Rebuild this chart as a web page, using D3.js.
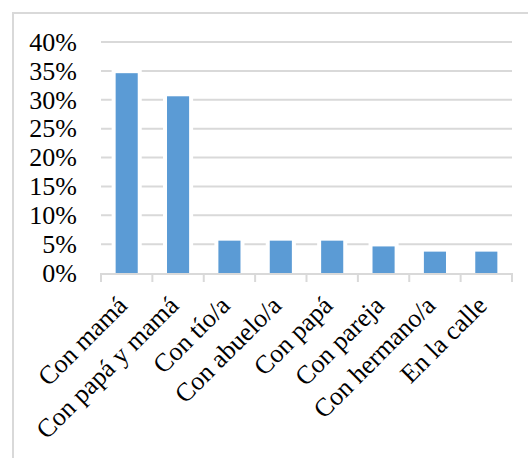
<!DOCTYPE html>
<html>
<head>
<meta charset="utf-8">
<script src="https://cdn.jsdelivr.net/npm/d3@7"></script>
<style>
  html, body { margin: 0; padding: 0; background: #fff; }
  svg { display: block; }
</style>
</head>
<body>
<svg id="chart" width="528" height="458"></svg>
<script>
// Where the respondents live (share of total)
const categories = ["Con mamá", "Con papá y mamá", "Con tío/a", "Con abuelo/a",
                    "Con papá", "Con pareja", "Con hermano/a", "En la calle"];
const values = [0.346, 0.306, 0.056, 0.056, 0.056, 0.046, 0.037, 0.037];
const yTicks = [0, 0.05, 0.10, 0.15, 0.20, 0.25, 0.30, 0.35, 0.40];
const yTickLabels = ["0%", "5%", "10%", "15%", "20%", "25%", "30%", "35%", "40%"];

const svg = d3.select("#chart");
const font = "'Liberation Serif', 'Times New Roman', serif";
const gridColor = "#d9d9d9";
const barColor = "#5b9bd5";

const plot = { left: 101, right: 512, top: 42, bottom: 273 };

// outer chart frame (left and top edges visible)
svg.append("path")
  .attr("d", `M13,458 L13,13 L528,13`)
  .attr("fill", "none")
  .attr("stroke", gridColor)
  .attr("stroke-width", 2);

const x = d3.scaleBand()
  .domain(categories)
  .range([plot.left, plot.right])
  .paddingInner(0.57)
  .paddingOuter(0.285);

const y = d3.scaleLinear()
  .domain([0, 0.40])
  .range([plot.bottom, plot.top]);

// horizontal gridlines
svg.append("g")
  .selectAll("line")
  .data(yTicks.slice(1))
  .join("line")
  .attr("x1", plot.left)
  .attr("x2", plot.right)
  .attr("y1", d => y(d))
  .attr("y2", d => y(d))
  .attr("stroke", gridColor)
  .attr("stroke-width", 2);

// y labels
svg.append("g")
  .selectAll("text")
  .data(yTicks)
  .join("text")
  .attr("x", 77)
  .attr("y", d => y(d))
  .attr("dy", "0.34em")
  .attr("text-anchor", "end")
  .attr("font-family", font)
  .attr("font-size", 26)
  .attr("fill", "#000")
  .text((d, i) => yTickLabels[i]);

// bars with a white halo that breaks the gridlines
const bars = svg.append("g");
bars.selectAll("rect.halo")
  .data(values)
  .join("rect")
  .attr("class", "halo")
  .attr("x", (d, i) => x(categories[i]) - 4)
  .attr("y", d => y(d) - 4)
  .attr("width", x.bandwidth() + 8)
  .attr("height", d => y(0) - y(d) + 4)
  .attr("fill", "#fff");
bars.selectAll("rect.bar")
  .data(values)
  .join("rect")
  .attr("class", "bar")
  .attr("x", (d, i) => x(categories[i]))
  .attr("y", d => y(d))
  .attr("width", x.bandwidth())
  .attr("height", d => y(0) - y(d))
  .attr("fill", barColor);

// category axis: baseline and boundary ticks
const boundaries = d3.range(categories.length + 1).map(i => plot.left + i * (plot.right - plot.left) / categories.length);
const axis = svg.append("g");
axis.append("line")
  .attr("x1", plot.left).attr("x2", plot.right)
  .attr("y1", plot.bottom + 1).attr("y2", plot.bottom + 1)
  .attr("stroke", gridColor).attr("stroke-width", 2);
axis.selectAll("line.tick")
  .data(boundaries)
  .join("line")
  .attr("class", "tick")
  .attr("x1", d => d).attr("x2", d => d)
  .attr("y1", plot.bottom).attr("y2", plot.bottom + 9)
  .attr("stroke", gridColor).attr("stroke-width", 2);

// rotated category labels
axis.selectAll("text")
  .data(categories)
  .join("text")
  .attr("transform", d => `translate(${x(d) + x.bandwidth() / 2 + 2},${plot.bottom + 34}) rotate(-45)`)
  .attr("text-anchor", "end")
  .attr("font-family", font)
  .attr("font-size", 26)
  .attr("fill", "#000")
  .text(d => d);
</script>
</body>
</html>
